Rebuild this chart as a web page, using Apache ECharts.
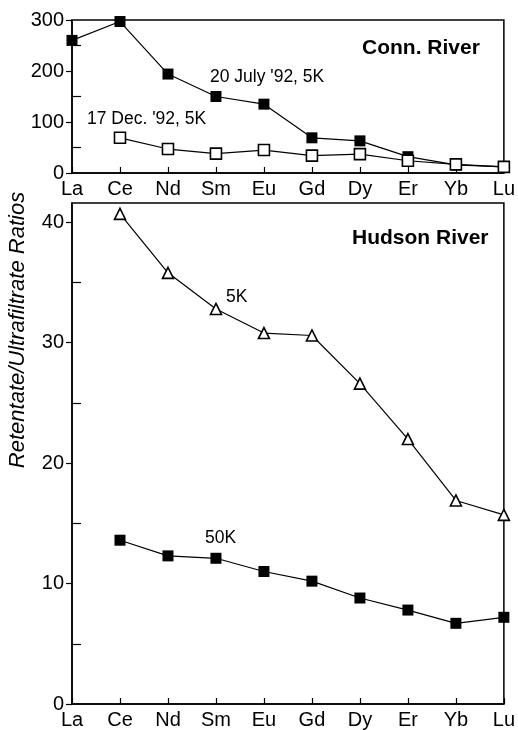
<!DOCTYPE html>
<html>
<head>
<meta charset="utf-8">
<script src="https://cdn.jsdelivr.net/npm/echarts@6/dist/echarts.min.js"></script>
<style>
  html, body { margin: 0; padding: 0; background: #fff; }
  #chart { width: 518px; height: 730px; }
</style>
</head>
<body>
<div id="chart"></div>
<script>
// Rare earth elements along the x axis
const elements = ['La', 'Ce', 'Nd', 'Sm', 'Eu', 'Gd', 'Dy', 'Er', 'Yb', 'Lu'];

// Connecticut River retentate/ultrafiltrate ratios
const connJuly5K = [260, 297, 194, 150, 135, 69, 63, 32, 16, 12];
const connDec5K = [null, 69, 47, 38, 45, 34, 37, 24, 17, 12];

// Hudson River retentate/ultrafiltrate ratios
const hudson5K = [null, 40.7, 35.8, 32.8, 30.8, 30.6, 26.6, 22.0, 16.9, 15.7];
const hudson50K = [null, 13.6, 12.3, 12.1, 11.0, 10.2, 8.8, 7.8, 6.7, 7.2];

// Tick values
const connMajor = [0, 100, 200, 300];
const connMinor = [50, 150, 250];
const hudMajor = [0, 10, 20, 30, 40];
const hudMinor = [5, 15, 25, 35];

const FONT = '"Liberation Sans", Arial, Helvetica, sans-serif';
const BLACK = '#000';

const chart = echarts.init(document.getElementById('chart'), null, { renderer: 'canvas' });

function catAxis(gridIndex) {
  return {
    type: 'category', gridIndex, data: elements, boundaryGap: false,
    axisLine: { lineStyle: { color: BLACK, width: 1.5 } },
    axisTick: { show: true, inside: true, length: 6, lineStyle: { color: BLACK, width: 1.2 } },
    axisLabel: { color: BLACK, fontFamily: FONT, fontSize: 20, margin: 6, interval: 0 },
    splitLine: { show: false }
  };
}

function valAxes(gridIndex, max, major, minor) {
  return [
    {
      type: 'value', gridIndex, min: 0, max, position: 'left',
      axisLine: { show: true, lineStyle: { color: BLACK, width: 1.5 } },
      axisTick: { show: true, inside: false, length: 6, customValues: major, lineStyle: { color: BLACK, width: 1.2 } },
      axisLabel: { color: BLACK, fontFamily: FONT, fontSize: 20, margin: 8, customValues: major },
      splitLine: { show: false }
    },
    {
      type: 'value', gridIndex, min: 0, max, position: 'left',
      axisLine: { show: false },
      axisTick: { show: true, inside: true, length: 9, customValues: minor, lineStyle: { color: BLACK, width: 1.2 } },
      axisLabel: { show: false },
      splitLine: { show: false }
    }
  ];
}

function series(name, xi, yi, data, symbol, filled) {
  return {
    name, type: 'line', xAxisIndex: xi, yAxisIndex: yi, data,
    symbol, symbolSize: 11,
    showAllSymbol: true, connectNulls: false,
    lineStyle: { color: BLACK, width: 1.2 },
    itemStyle: { color: filled ? BLACK : '#fff', borderColor: BLACK, borderWidth: filled ? 0 : 1.6 },
    emphasis: { disabled: true },
    animation: false, z: filled ? 3 : 4
  };
}

const option = {
  backgroundColor: '#fff',
  animation: false,
  grid: [
    { left: 72, top: 20, width: 434, height: 153, show: true, borderColor: BLACK, borderWidth: 1.5, containLabel: false },
    { left: 72, top: 203, width: 434, height: 505, show: true, borderColor: BLACK, borderWidth: 1.5, containLabel: false }
  ],
  xAxis: [catAxis(0), catAxis(1)],
  yAxis: [
    ...valAxes(0, 300, connMajor, connMinor),
    ...valAxes(1, 41.6, hudMajor, hudMinor)
  ],
  series: [
    series('20 July \'92, 5K', 0, 0, connJuly5K, 'rect', true),
    series('17 Dec. \'92, 5K', 0, 0, connDec5K, 'rect', false),
    series('5K', 1, 2, hudson5K, 'triangle', false),
    series('50K', 1, 2, hudson50K, 'rect', true)
  ],
  graphic: [
    { type: 'text', left: 362, top: 38, style: { text: 'Conn. River', font: 'bold 21px ' + FONT, fill: BLACK } },
    { type: 'text', left: 210, top: 68, style: { text: '20 July \'92, 5K', font: '17.5px ' + FONT, fill: BLACK } },
    { type: 'text', left: 87, top: 110, style: { text: '17 Dec. \'92, 5K', font: '17.5px ' + FONT, fill: BLACK } },
    { type: 'text', left: 352, top: 228, style: { text: 'Hudson River', font: 'bold 21px ' + FONT, fill: BLACK } },
    { type: 'text', left: 226, top: 288, style: { text: '5K', font: '17.5px ' + FONT, fill: BLACK } },
    { type: 'text', left: 205, top: 529, style: { text: '50K', font: '17.5px ' + FONT, fill: BLACK } },
    {
      type: 'text', x: 18, y: 330, rotation: Math.PI / 2,
      style: { text: 'Retentate/Ultrafiltrate Ratios', font: 'italic 22px ' + FONT, fill: BLACK, align: 'center', verticalAlign: 'middle' }
    }
  ]
};

chart.setOption(option);
</script>
</body>
</html>
